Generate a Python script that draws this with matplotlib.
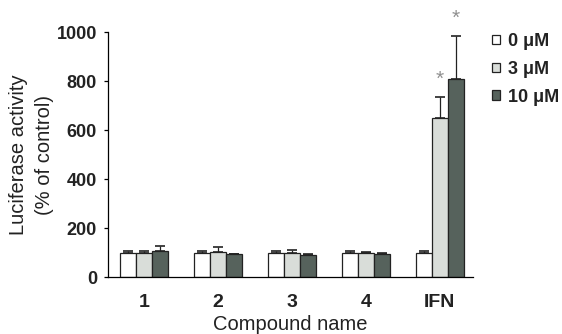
import numpy as np
import matplotlib.pyplot as plt

plt.rcParams["font.family"] = ["Liberation Sans", "DejaVu Sans"]

compounds = ["1", "2", "3", "4", "IFN"]
doses = ["0 μM", "3 μM", "10 μM"]
means_0 = [100, 100, 100, 100, 100]
means_3 = [100, 103, 98, 98, 648]
means_10 = [108, 93, 90, 95, 808]
err_0 = [5, 5, 5, 5, 5]
err_3 = [5, 18, 12, 5, 87]
err_10 = [20, 2, 2, 3, 176]
star_3 = [False, False, False, False, True]
star_10 = [False, False, False, False, True]

colors = ["white", "#d9ddd9", "#56625c"]

fig = plt.figure(figsize=(5.62, 3.34), dpi=100)
ax = fig.add_axes([108 / 562, 1 - 277 / 334, (473 - 108) / 562, (277 - 32) / 334])

x = np.arange(len(compounds))
w = 0.215
series = [(means_0, err_0, None), (means_3, err_3, star_3), (means_10, err_10, star_10)]
for i, (m, e, st) in enumerate(series):
    pos = x + (i - 1) * w
    ax.bar(pos, m, width=w, color=colors[i], edgecolor="#222222", linewidth=0.9,
           label=doses[i], zorder=2)
    ax.errorbar(pos, m, yerr=[np.zeros(len(e)), e], fmt="none", ecolor="#222222",
                elinewidth=0.9, capsize=3.5, capthick=1.2, zorder=3)
    if st is not None:
        for p, v, ee, s in zip(pos, m, e, st):
            if s:
                ax.text(p, v + ee + 72, "*", ha="center", va="center", fontsize=15,
                        color="#909090", clip_on=False)

ax.set_xlim(-0.49, 4.45)
ax.set_ylim(0, 1000)
ax.set_yticks([0, 200, 400, 600, 800, 1000])
ax.set_xticks(x)
ax.set_xticklabels(compounds)
ax.tick_params(axis="x", length=0, pad=12, labelsize=14)
ax.tick_params(axis="y", length=3, width=0.9, labelsize=13, pad=5)
for lab in ax.get_xticklabels() + ax.get_yticklabels():
    lab.set_fontweight("bold")
    lab.set_color("#222222")
ax.spines["top"].set_visible(False)
ax.spines["right"].set_visible(False)
ax.spines["left"].set_linewidth(0.9)
ax.spines["bottom"].set_linewidth(0.9)

ax.set_ylabel("Luciferase activity\n(% of control)", fontsize=14.5, color="#222222",
              labelpad=2, linespacing=1.45)
ax.set_xlabel("Compound name", fontsize=14.5, color="#222222", labelpad=3)

leg = ax.legend(loc="upper left", bbox_to_anchor=(1.008, 1.062), frameon=False,
                handlelength=0.45, handleheight=0.45, handletextpad=0.45,
                labelspacing=0.6, prop={"size": 13, "weight": "bold"})
for t in leg.get_texts():
    t.set_color("#222222")

fig.savefig("out.png", dpi=100)
